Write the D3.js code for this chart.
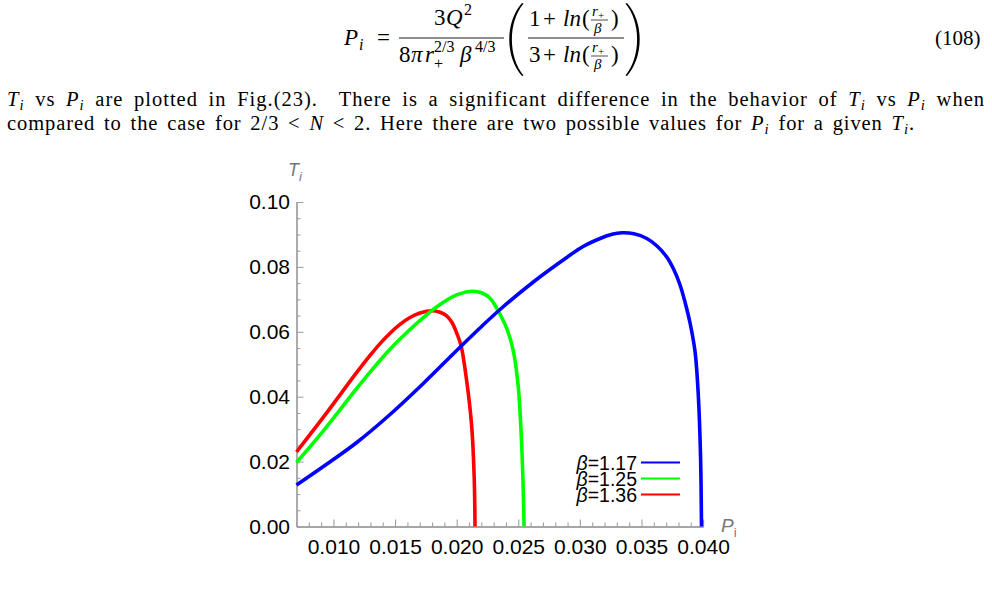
<!DOCTYPE html>
<html><head><meta charset="utf-8">
<script src="https://cdn.jsdelivr.net/npm/d3@7/dist/d3.min.js"></script>
<style>body{margin:0;background:#fff;} svg{display:block;} text{white-space:pre;}</style>
</head><body>
<svg id="c" width="992" height="593"></svg>
<script>
// ---------------- data ----------------
const betaValues = ["1.17", "1.25", "1.36"];
const seriesColors = ["#0000ff", "#00ff00", "#ff0000"];

const P_beta117 = [0.00700, 0.00918, 0.01189, 0.01459, 0.01729, 0.02000, 0.02189, 0.02352, 0.02622, 0.02893, 0.03026, 0.03164, 0.03261, 0.03342, 0.03439, 0.03543, 0.03626, 0.03705, 0.03764, 0.03813, 0.03853, 0.03894, 0.03935, 0.03961, 0.03979, 0.03987];
const T_beta117 = [0.01279, 0.01849, 0.02589, 0.03451, 0.04407, 0.05424, 0.06117, 0.06687, 0.07535, 0.08290, 0.08629, 0.08875, 0.09005, 0.09051, 0.09020, 0.08875, 0.08644, 0.08305, 0.07904, 0.07442, 0.06918, 0.06271, 0.05378, 0.04052, 0.02203, 0.0];

const P_beta125 = [0.00700, 0.00918, 0.01189, 0.01321, 0.01459, 0.01589, 0.01729, 0.01808, 0.01905, 0.02011, 0.02129, 0.02206, 0.02271, 0.02325, 0.02406, 0.02460, 0.02500, 0.02522, 0.02538, 0.02547];
const T_beta125 = [0.01972, 0.02946, 0.04253, 0.04866, 0.05464, 0.05957, 0.06438, 0.06684, 0.06943, 0.07153, 0.07251, 0.07196, 0.07032, 0.06724, 0.06108, 0.05408, 0.04308, 0.02974, 0.01433, 0.0];

const P_beta136 = [0.00700, 0.00918, 0.01189, 0.01297, 0.01378, 0.01459, 0.01540, 0.01621, 0.01702, 0.01797, 0.01865, 0.01919, 0.01962, 0.02000, 0.02035, 0.02082, 0.02122, 0.02142, 0.02149];
const T_beta136 = [0.02296, 0.03369, 0.04749, 0.05270, 0.05636, 0.05957, 0.06228, 0.06441, 0.06579, 0.06650, 0.06604, 0.06493, 0.06287, 0.05963, 0.05578, 0.04468, 0.03082, 0.01541, 0.0];

const xMajorTicks = [0.010, 0.015, 0.020, 0.025, 0.030, 0.035, 0.040];
const xTickLabels = ["0.010", "0.015", "0.020", "0.025", "0.030", "0.035", "0.040"];
const yMajorTicks = [0.00, 0.02, 0.04, 0.06, 0.08, 0.10];
const yTickLabels = ["0.00", "0.02", "0.04", "0.06", "0.08", "0.10"];
const xDomain = [0.007, 0.040];
const yDomain = [0, 0.10];

// ---------------- layout ----------------
const svg = d3.select("#c");
const SERIF = "'Liberation Serif','Times New Roman',serif";
const SANS = "'Liberation Sans',Arial,sans-serif";

// ---- equation ----
const eq = svg.append("g").style("font-family", SERIF).attr("fill", "#000");
function put(s, x, y, size, italic) {
  const t = eq.append("text").attr("x", x).attr("y", y).style("font-size", size + "px").text(s);
  if (italic) t.style("font-style", "italic");
  return t;
}
put("P", 344, 45, 23, true);
put("i", 359, 50, 16, true);
put("=", 377, 45, 23);
eq.append("line").attr("x1", 399).attr("x2", 504).attr("y1", 38).attr("y2", 38).attr("stroke", "#000").attr("stroke-width", 0.9);
put("3", 434, 25, 23);
put("Q", 446, 25, 23, true);
put("2", 464, 15, 16);
put("8", 399, 62, 23);
put("π", 411, 62, 23, true);
put("r", 425, 62, 23, true);
put("2/3", 434, 52, 16);
put("+", 434, 69, 16);
put("β", 460, 62, 23, true);
put("4/3", 475, 52, 16);
eq.append("path").attr("d", "M522,3 C505,22 505,57 522,76 L523.5,75.5 C508,57 508,22 523.5,3.5 Z");
eq.append("path").attr("d", "M627,3 C644,22 644,57 627,76 L625.5,75.5 C641,57 641,22 625.5,3.5 Z");
eq.append("line").attr("x1", 528).attr("x2", 624).attr("y1", 38).attr("y2", 38).attr("stroke", "#000").attr("stroke-width", 0.9);
function innerRow(first, by) {
  put(first, 529, by, 23);
  put("+", 543, by, 23);
  put("ln", 563, by, 23, true);
  put("(", 582, by, 23);
  eq.append("line").attr("x1", 591).attr("x2", 608).attr("y1", by - 6).attr("y2", by - 6).attr("stroke", "#000").attr("stroke-width", 0.7);
  put("r", 592, by - 10, 15, true);
  put("+", 598, by - 7, 11);
  put("β", 594, by + 7, 15, true);
  put(")", 611, by, 23);
}
innerRow("1", 26);
innerRow("3", 62);
put("(108)", 935, 45, 21);

// ---- body text ----
function rich(x, y, segs, size, target) {
  const t = svg.append("text").attr("x", x).attr("y", y).style("font-family", SERIF).style("font-size", size + "px");
  let shift = 0, spaces = 0, chars = 0;
  segs.forEach(sg => {
    const want = sg.sub ? 4 : 0;
    const ts = t.append("tspan").text(sg.s).attr("dy", want - shift);
    shift = want;
    if (sg.i) ts.style("font-style", "italic");
    if (sg.sub) ts.style("font-size", (size * 0.72) + "px");
    spaces += (sg.s.match(/ /g) || []).length;
    chars += sg.s.length;
  });
  if (target) {
    let len = t.node().getComputedTextLength();
    const ls = Math.max(0, Math.min(1.0, (target - len) * 0.6 / chars));
    t.attr("letter-spacing", ls);
    len = t.node().getComputedTextLength();
    t.attr("word-spacing", (target - len) / spaces);
  }
}
rich(7, 106, [
  {s: "T", i: 1}, {s: "i", i: 1, sub: 1}, {s: " vs "}, {s: "P", i: 1}, {s: "i", i: 1, sub: 1},
  {s: " are plotted in Fig.(23).  There is a significant difference in the behavior of "},
  {s: "T", i: 1}, {s: "i", i: 1, sub: 1}, {s: " vs "}, {s: "P", i: 1}, {s: "i", i: 1, sub: 1}, {s: " when"}
], 20.5, 978);
rich(7, 130, [
  {s: "compared to the case for 2/3 < "}, {s: "N", i: 1}, {s: " < 2. Here there are two possible values for "},
  {s: "P", i: 1}, {s: "i", i: 1, sub: 1}, {s: " for a given "}, {s: "T", i: 1}, {s: "i", i: 1, sub: 1}, {s: "."}
], 20.5, 908);

// ---- chart ----
const x = d3.scaleLinear().domain(xDomain).range([296.5, 703.1]);
const y = d3.scaleLinear().domain(yDomain).range([526.5, 202]);
const AX = "#a0a0a0";

const xMinor = d3.range(7, 41).map(v => v / 1000).filter(v => !xMajorTicks.some(m => Math.abs(m - v) < 1e-9));
const yMinor = d3.range(0, 21).map(v => v * 0.005).filter(v => !yMajorTicks.some(m => Math.abs(m - v) < 1e-9));

const gx = svg.append("g").attr("transform", `translate(0,${y(0)})`);
gx.append("g").call(d3.axisBottom(x).tickValues(xMinor).tickSize(-4).tickSizeOuter(0).tickFormat(""));
gx.append("g").call(d3.axisBottom(x).tickValues(xMajorTicks).tickSize(-7).tickSizeOuter(0).tickPadding(13)
  .tickFormat((d, i) => xTickLabels[i]));
const gy = svg.append("g").attr("transform", `translate(${x(xDomain[0])},0)`);
gy.append("g").call(d3.axisLeft(y).tickValues(yMinor).tickSize(-4).tickSizeOuter(0).tickFormat(""));
gy.append("g").call(d3.axisLeft(y).tickValues(yMajorTicks).tickSize(-7).tickSizeOuter(0).tickPadding(6.5)
  .tickFormat((d, i) => yTickLabels[i]));
svg.selectAll(".domain").attr("stroke", AX).attr("stroke-width", 1.3);
svg.selectAll(".tick line").attr("stroke", AX).attr("stroke-width", 1.1);
svg.selectAll(".tick text").attr("fill", "#000").style("font-family", SANS).style("font-size", "21px");

// axis labels
const tl = svg.append("text").attr("x", 288).attr("y", 176).style("font-family", SANS).attr("fill", "#777");
tl.append("tspan").text("T").style("font-size", "18px").style("font-style", "italic");
tl.append("tspan").text("i").style("font-size", "13px").style("font-style", "italic").attr("dy", 5);
const pl = svg.append("text").attr("x", 721).attr("y", 532).style("font-family", SANS).attr("fill", "#777");
pl.append("tspan").text("P").style("font-size", "19px").style("font-style", "italic");
pl.append("tspan").text("i").style("font-size", "13px").attr("dy", 5);

// curves
const series = [
  {P: P_beta117, T: T_beta117},
  {P: P_beta125, T: T_beta125},
  {P: P_beta136, T: T_beta136}
];
const line = d3.line().x(d => x(d[0])).y(d => y(d[1])).curve(d3.curveCatmullRom.alpha(0.5));
const plot = svg.append("g");
series.slice().reverse().forEach((s, k) => {
  const i = series.length - 1 - k;
  plot.append("path").datum(s.P.map((p, j) => [p, s.T[j]]))
    .attr("d", line).attr("fill", "none").attr("stroke", seriesColors[i])
    .attr("stroke-width", 3.6).attr("stroke-linejoin", "round").attr("stroke-linecap", "butt");
});

// legend
const lg = svg.append("g");
betaValues.forEach((b, i) => {
  const ly = 462.5 + i * 16;
  const t = lg.append("text").attr("x", 637).attr("y", ly + 7).attr("text-anchor", "end")
    .style("font-family", SANS).style("font-size", "19.5px").attr("fill", "#000");
  t.append("tspan").text("β").style("font-style", "italic");
  t.append("tspan").text("=" + b);
  lg.append("line").attr("x1", 641).attr("x2", 680).attr("y1", ly).attr("y2", ly)
    .attr("stroke", seriesColors[i]).attr("stroke-width", 2);
});
</script>
</body></html>
